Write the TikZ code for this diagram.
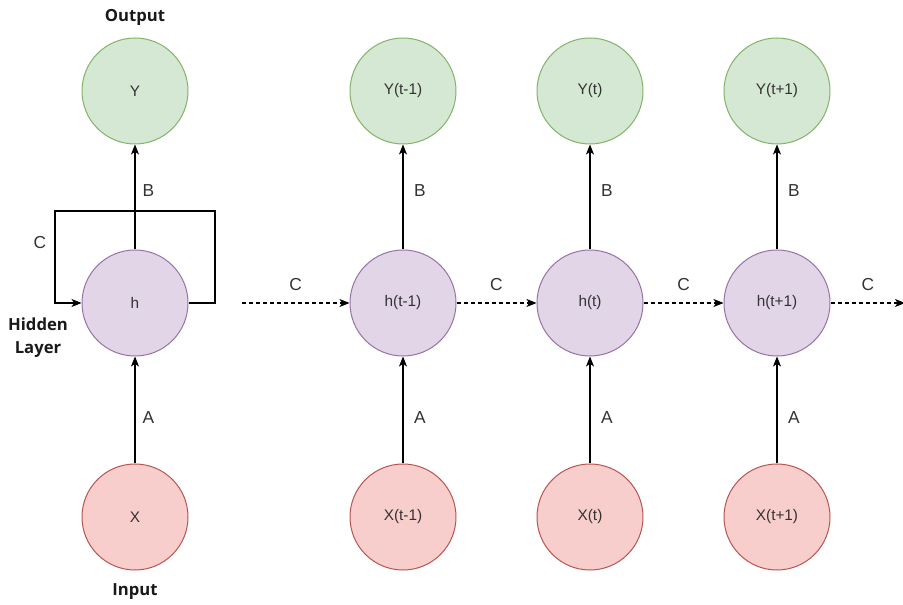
\documentclass[tikz,border=0pt]{standalone}
\usepackage{fontspec}
\setmainfont{Liberation Sans}
\newfontfamily\boldlabelfont{Open Sans}
\usepackage{tikz}
\usetikzlibrary{arrows.meta, positioning}

\definecolor{ygreen}{HTML}{D5E8D4}
\definecolor{ygreenline}{HTML}{82B366}
\definecolor{hpurple}{HTML}{E1D5E7}
\definecolor{hpurpleline}{HTML}{9673A6}
\definecolor{xred}{HTML}{F8CECC}
\definecolor{xredline}{HTML}{B85450}
\definecolor{txtgray}{HTML}{333333}

\tikzset{
  unit/.style={circle, minimum size=79.5pt, inner sep=0pt, line width=0.75pt,
    text=txtgray, font=\fontsize{11.5}{13}\selectfont},
  outnode/.style={unit, draw=ygreenline, fill=ygreen},
  hidnode/.style={unit, draw=hpurpleline, fill=hpurple},
  innode/.style={unit, draw=xredline, fill=xred},
  wire/.style={line width=0.8pt, -{Stealth[length=7.5pt, width=6pt, inset=2pt]}},
  dashwire/.style={wire, dash pattern=on 3pt off 2.25pt},
  wlabel/.style={text=txtgray, font=\fontsize{13}{15}\selectfont, inner sep=0pt},
  sidelabel/.style={font=\boldlabelfont\bfseries\fontsize{12.5}{17.5}\selectfont,
    align=center, inner sep=0pt, text=black!90}
}

\begin{document}
\begin{tikzpicture}[x=0.75pt,y=0.75pt,yscale=-1,xscale=1]
\useasboundingbox (0,0) rectangle (903,605);

% folded network
\node [outnode] (Y) at (135,91) {Y};
\node [hidnode] (h) at (135,303) {h};
\node [innode]  (X) at (135,517) {X};

\node [sidelabel] (outlbl) at (135,17) {Output};
\node [sidelabel] (hidlbl) at (38,338) {Hidden\\Layer};
\node [sidelabel] (inlbl)  at (135,592) {Input};

\draw [wire] (X) -- node [wlabel, xshift=10pt, yshift=-6pt] {A} (h);
\draw [wire] (h) -- node [wlabel, xshift=10pt, yshift=5pt] {B} (Y);

% recurrent loop
\coordinate (loopR) at (215,211);
\coordinate (loopL) at (55,211);
\draw [wire] (h.east) -| (loopR) -- (loopL) |- (h.west);
\node [wlabel] (loopC) at (40,243) {C};

% unfolded network
\foreach \name/\tt/\xx in {a/t-1/403, b/t/590, c/t+1/777}{
  \node [outnode] (Y\name) at (\xx,91) {Y(\tt)};
  \node [hidnode] (h\name) at (\xx,303) {h(\tt)};
  \node [innode]  (X\name) at (\xx,517) {X(\tt)};
  \draw [wire] (X\name) -- node [wlabel, xshift=12.75pt, yshift=-6pt] {A} (h\name);
  \draw [wire] (h\name) -- node [wlabel, xshift=12.75pt, yshift=5pt] {B} (Y\name);
}

\coordinate (chainin) at (242,303);
\coordinate (chainout) at (905,303);
\draw [dashwire] (chainin) -- node [wlabel, yshift=13.5pt] {C} (ha);
\draw [dashwire] (ha) -- node [wlabel, yshift=13.5pt] {C} (hb);
\draw [dashwire] (hb) -- node [wlabel, yshift=13.5pt] {C} (hc);
\draw [dashwire] (hc) -- node [wlabel, yshift=13.5pt] {C} (chainout);

\end{tikzpicture}
\end{document}
